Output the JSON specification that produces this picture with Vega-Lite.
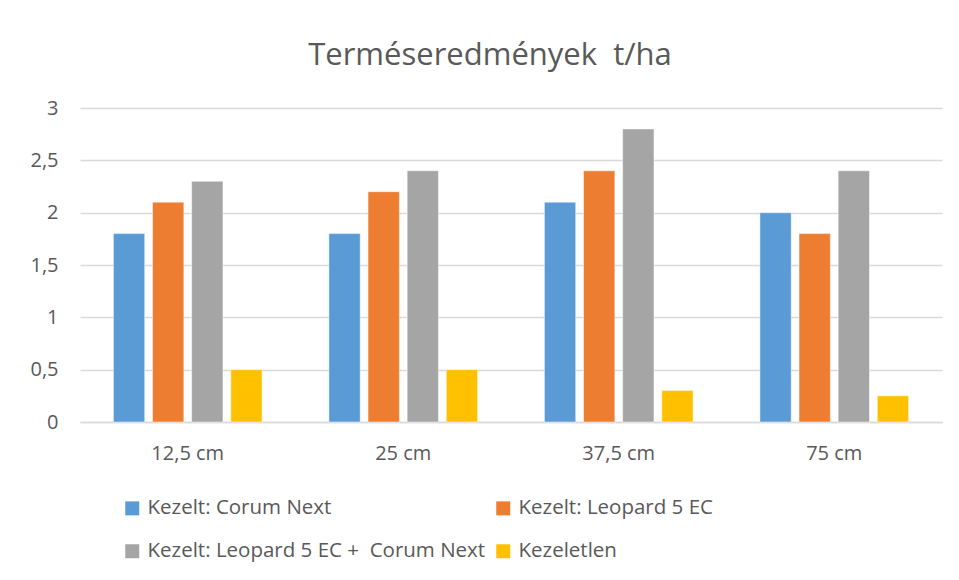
{
  "$schema": "https://vega.github.io/schema/vega-lite/v6.json",
  "width": 862,
  "height": 314,
  "autosize": {"type": "none"},
  "padding": {"left": 80, "top": 108, "right": 17, "bottom": 158},
  "background": "white",
  "title": {
    "text": "Terméseredmények\u00a0\u00a0t/ha",
    "font": "Open Sans",
    "fontSize": 31,
    "fontWeight": "normal",
    "color": "#595959",
    "offset": 26,
    "dx": -21,
    "anchor": "middle"
  },
  "data": {
    "values": [
      {"sor": "12,5 cm", "kezeles": "Kezelt: Corum Next", "t": 1.8},
      {"sor": "12,5 cm", "kezeles": "Kezelt: Leopard 5 EC", "t": 2.1},
      {"sor": "12,5 cm", "kezeles": "Kezelt: Leopard 5 EC +\u00a0\u00a0Corum Next", "t": 2.3},
      {"sor": "12,5 cm", "kezeles": "Kezeletlen", "t": 0.5},
      {"sor": "25 cm", "kezeles": "Kezelt: Corum Next", "t": 1.8},
      {"sor": "25 cm", "kezeles": "Kezelt: Leopard 5 EC", "t": 2.2},
      {"sor": "25 cm", "kezeles": "Kezelt: Leopard 5 EC +\u00a0\u00a0Corum Next", "t": 2.4},
      {"sor": "25 cm", "kezeles": "Kezeletlen", "t": 0.5},
      {"sor": "37,5 cm", "kezeles": "Kezelt: Corum Next", "t": 2.1},
      {"sor": "37,5 cm", "kezeles": "Kezelt: Leopard 5 EC", "t": 2.4},
      {"sor": "37,5 cm", "kezeles": "Kezelt: Leopard 5 EC +\u00a0\u00a0Corum Next", "t": 2.8},
      {"sor": "37,5 cm", "kezeles": "Kezeletlen", "t": 0.3},
      {"sor": "75 cm", "kezeles": "Kezelt: Corum Next", "t": 2.0},
      {"sor": "75 cm", "kezeles": "Kezelt: Leopard 5 EC", "t": 1.8},
      {"sor": "75 cm", "kezeles": "Kezelt: Leopard 5 EC +\u00a0\u00a0Corum Next", "t": 2.4},
      {"sor": "75 cm", "kezeles": "Kezeletlen", "t": 0.25}
    ]
  },
  "mark": {"type": "bar", "stroke": "white", "strokeWidth": 0.8, "strokeOpacity": 0.6},
  "encoding": {
    "x": {
      "field": "sor",
      "type": "nominal",
      "sort": ["12,5 cm", "25 cm", "37,5 cm", "75 cm"],
      "scale": {"paddingInner": 0.31, "paddingOuter": 0.155},
      "axis": {
        "title": null,
        "labelAngle": 0,
        "ticks": false,
        "domainColor": "#d9d9d9",
        "domainWidth": 1.5,
        "labelPadding": 21,
        "labelFont": "Open Sans",
        "labelFontSize": 20,
        "labelColor": "#595959"
      }
    },
    "xOffset": {
      "field": "kezeles",
      "type": "nominal",
      "sort": ["Kezelt: Corum Next", "Kezelt: Leopard 5 EC", "Kezelt: Leopard 5 EC +\u00a0\u00a0Corum Next", "Kezeletlen"],
      "scale": {"paddingInner": 0.2, "paddingOuter": 0}
    },
    "y": {
      "field": "t",
      "type": "quantitative",
      "scale": {"domain": [0, 3]},
      "axis": {
        "title": null,
        "values": [0, 0.5, 1, 1.5, 2, 2.5, 3],
        "labelExpr": "replace(format(datum.value, '~g'), '.', ',')",
        "ticks": false,
        "domain": false,
        "gridColor": "#d9d9d9",
        "gridWidth": 1.5,
        "labelPadding": 22,
        "labelFont": "Open Sans",
        "labelFontSize": 20,
        "labelColor": "#595959"
      }
    },
    "color": {
      "field": "kezeles",
      "type": "nominal",
      "scale": {
        "domain": ["Kezelt: Corum Next", "Kezelt: Leopard 5 EC", "Kezelt: Leopard 5 EC +\u00a0\u00a0Corum Next", "Kezeletlen"],
        "range": ["#5B9BD5", "#ED7D31", "#A5A5A5", "#FFC000"]
      },
      "legend": {
        "title": null,
        "orient": "none",
        "legendX": 42,
        "legendY": 390,
        "direction": "horizontal",
        "columns": 2,
        "columnPadding": 7,
        "rowPadding": 22,
        "symbolType": "square",
        "symbolSize": 196,
        "symbolStrokeWidth": 0,
        "labelFont": "Open Sans",
        "labelFontSize": 20.5,
        "labelColor": "#595959",
        "labelOffset": 5,
        "labelLimit": 450
      }
    }
  },
  "config": {"view": {"stroke": null}}
}
